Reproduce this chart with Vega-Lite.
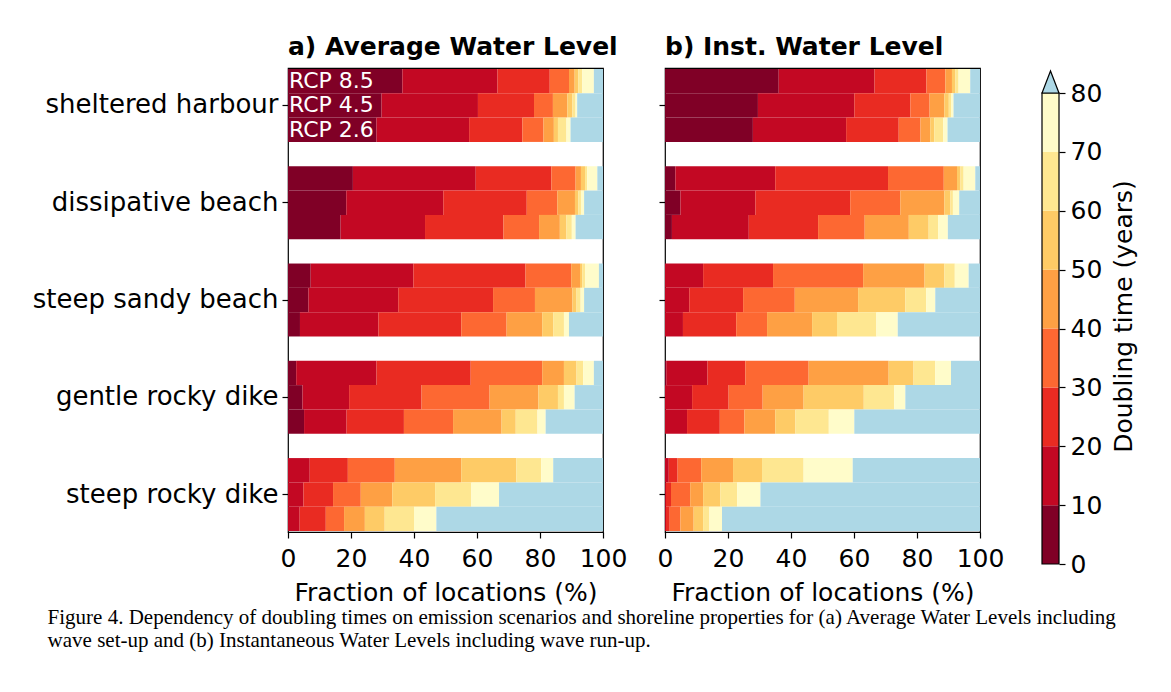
{
  "$schema": "https://vega.github.io/schema/vega-lite/v6.json",
  "background": "white",
  "padding": {"left": 31, "top": 34, "right": 10, "bottom": 10},
  "config": {
    "font": "DejaVu Sans",
    "view": {"stroke": "black", "strokeWidth": 1.2},
    "axis": {"labelFont": "DejaVu Sans", "labelFontSize": 25, "labelColor": "black", "titleFont": "DejaVu Sans", "titleFontSize": 25, "titleFontWeight": "normal", "titleColor": "black", "tickColor": "black", "tickSize": 6, "tickWidth": 1.2, "domain": false, "grid": false, "labelFlush": false, "labelOverlap": false, "labelPadding": 8, "labelLimit": 0}
  },
  "title": {
    "text": ["Figure 4. Dependency of doubling times on emission scenarios and shoreline properties for (a) Average Water Levels including", "wave set-up and (b) Instantaneous Water Levels including wave run-up."],
    "orient": "bottom", "anchor": "start", "font": "Liberation Serif", "fontSize": 21, "fontWeight": "normal", "color": "black", "lineHeight": 23, "offset": 1, "dx": 16
  },
  "datasets": {
    "A": [
      {"c":"sheltered harbour","r":"8.5","k":0,"a":0,"b":36.3},{"c":"sheltered harbour","r":"8.5","k":1,"a":36.3,"b":66.5},{"c":"sheltered harbour","r":"8.5","k":2,"a":66.5,"b":83.1},{"c":"sheltered harbour","r":"8.5","k":3,"a":83.1,"b":89.2},{"c":"sheltered harbour","r":"8.5","k":4,"a":89.2,"b":91.0},{"c":"sheltered harbour","r":"8.5","k":5,"a":91.0,"b":92.2},{"c":"sheltered harbour","r":"8.5","k":6,"a":92.2,"b":93.4},{"c":"sheltered harbour","r":"8.5","k":7,"a":93.4,"b":97.1},{"c":"sheltered harbour","r":"8.5","k":8,"a":97.1,"b":100},
      {"c":"sheltered harbour","r":"4.5","k":0,"a":0,"b":29.7},{"c":"sheltered harbour","r":"4.5","k":1,"a":29.7,"b":60.3},{"c":"sheltered harbour","r":"4.5","k":2,"a":60.3,"b":78.1},{"c":"sheltered harbour","r":"4.5","k":3,"a":78.1,"b":84.1},{"c":"sheltered harbour","r":"4.5","k":4,"a":84.1,"b":88.7},{"c":"sheltered harbour","r":"4.5","k":5,"a":88.7,"b":90.3},{"c":"sheltered harbour","r":"4.5","k":6,"a":90.3,"b":91.3},{"c":"sheltered harbour","r":"4.5","k":7,"a":91.3,"b":91.8},{"c":"sheltered harbour","r":"4.5","k":8,"a":91.8,"b":100},
      {"c":"sheltered harbour","r":"2.6","k":0,"a":0,"b":28.1},{"c":"sheltered harbour","r":"2.6","k":1,"a":28.1,"b":57.5},{"c":"sheltered harbour","r":"2.6","k":2,"a":57.5,"b":74.4},{"c":"sheltered harbour","r":"2.6","k":3,"a":74.4,"b":81.1},{"c":"sheltered harbour","r":"2.6","k":4,"a":81.1,"b":84.4},{"c":"sheltered harbour","r":"2.6","k":5,"a":84.4,"b":85.7},{"c":"sheltered harbour","r":"2.6","k":6,"a":85.7,"b":88.4},{"c":"sheltered harbour","r":"2.6","k":7,"a":88.4,"b":89.7},{"c":"sheltered harbour","r":"2.6","k":8,"a":89.7,"b":100},
      {"c":"dissipative beach","r":"8.5","k":0,"a":0,"b":20.6},{"c":"dissipative beach","r":"8.5","k":1,"a":20.6,"b":59.6},{"c":"dissipative beach","r":"8.5","k":2,"a":59.6,"b":83.6},{"c":"dissipative beach","r":"8.5","k":3,"a":83.6,"b":91.3},{"c":"dissipative beach","r":"8.5","k":4,"a":91.3,"b":93.0},{"c":"dissipative beach","r":"8.5","k":5,"a":93.0,"b":94.3},{"c":"dissipative beach","r":"8.5","k":6,"a":94.3,"b":95.0},{"c":"dissipative beach","r":"8.5","k":7,"a":95.0,"b":98.2},{"c":"dissipative beach","r":"8.5","k":8,"a":98.2,"b":100},
      {"c":"dissipative beach","r":"4.5","k":0,"a":0,"b":18.5},{"c":"dissipative beach","r":"4.5","k":1,"a":18.5,"b":49.3},{"c":"dissipative beach","r":"4.5","k":2,"a":49.3,"b":75.8},{"c":"dissipative beach","r":"4.5","k":3,"a":75.8,"b":85.5},{"c":"dissipative beach","r":"4.5","k":4,"a":85.5,"b":91.1},{"c":"dissipative beach","r":"4.5","k":5,"a":91.1,"b":92.2},{"c":"dissipative beach","r":"4.5","k":6,"a":92.2,"b":93.0},{"c":"dissipative beach","r":"4.5","k":7,"a":93.0,"b":94.0},{"c":"dissipative beach","r":"4.5","k":8,"a":94.0,"b":100},
      {"c":"dissipative beach","r":"2.6","k":0,"a":0,"b":16.7},{"c":"dissipative beach","r":"2.6","k":1,"a":16.7,"b":43.5},{"c":"dissipative beach","r":"2.6","k":2,"a":43.5,"b":68.4},{"c":"dissipative beach","r":"2.6","k":3,"a":68.4,"b":79.7},{"c":"dissipative beach","r":"2.6","k":4,"a":79.7,"b":86.3},{"c":"dissipative beach","r":"2.6","k":5,"a":86.3,"b":88.4},{"c":"dissipative beach","r":"2.6","k":6,"a":88.4,"b":90.1},{"c":"dissipative beach","r":"2.6","k":7,"a":90.1,"b":91.3},{"c":"dissipative beach","r":"2.6","k":8,"a":91.3,"b":100},
      {"c":"steep sandy beach","r":"8.5","k":0,"a":0,"b":7.2},{"c":"steep sandy beach","r":"8.5","k":1,"a":7.2,"b":39.8},{"c":"steep sandy beach","r":"8.5","k":2,"a":39.8,"b":75.4},{"c":"steep sandy beach","r":"8.5","k":3,"a":75.4,"b":89.9},{"c":"steep sandy beach","r":"8.5","k":4,"a":89.9,"b":92.7},{"c":"steep sandy beach","r":"8.5","k":5,"a":92.7,"b":93.4},{"c":"steep sandy beach","r":"8.5","k":6,"a":93.4,"b":94.3},{"c":"steep sandy beach","r":"8.5","k":7,"a":94.3,"b":98.7},{"c":"steep sandy beach","r":"8.5","k":8,"a":98.7,"b":100},
      {"c":"steep sandy beach","r":"4.5","k":0,"a":0,"b":6.5},{"c":"steep sandy beach","r":"4.5","k":1,"a":6.5,"b":35.0},{"c":"steep sandy beach","r":"4.5","k":2,"a":35.0,"b":65.1},{"c":"steep sandy beach","r":"4.5","k":3,"a":65.1,"b":78.4},{"c":"steep sandy beach","r":"4.5","k":4,"a":78.4,"b":90.3},{"c":"steep sandy beach","r":"4.5","k":5,"a":90.3,"b":91.6},{"c":"steep sandy beach","r":"4.5","k":6,"a":91.6,"b":92.9},{"c":"steep sandy beach","r":"4.5","k":7,"a":92.9,"b":94.0},{"c":"steep sandy beach","r":"4.5","k":8,"a":94.0,"b":100},
      {"c":"steep sandy beach","r":"2.6","k":0,"a":0,"b":3.8},{"c":"steep sandy beach","r":"2.6","k":1,"a":3.8,"b":28.7},{"c":"steep sandy beach","r":"2.6","k":2,"a":28.7,"b":55.0},{"c":"steep sandy beach","r":"2.6","k":3,"a":55.0,"b":69.4},{"c":"steep sandy beach","r":"2.6","k":4,"a":69.4,"b":80.7},{"c":"steep sandy beach","r":"2.6","k":5,"a":80.7,"b":84.2},{"c":"steep sandy beach","r":"2.6","k":6,"a":84.2,"b":87.6},{"c":"steep sandy beach","r":"2.6","k":7,"a":87.6,"b":89.2},{"c":"steep sandy beach","r":"2.6","k":8,"a":89.2,"b":100},
      {"c":"gentle rocky dike","r":"8.5","k":0,"a":0,"b":2.6},{"c":"gentle rocky dike","r":"8.5","k":1,"a":2.6,"b":28.1},{"c":"gentle rocky dike","r":"8.5","k":2,"a":28.1,"b":58.0},{"c":"gentle rocky dike","r":"8.5","k":3,"a":58.0,"b":80.7},{"c":"gentle rocky dike","r":"8.5","k":4,"a":80.7,"b":87.6},{"c":"gentle rocky dike","r":"8.5","k":5,"a":87.6,"b":91.6},{"c":"gentle rocky dike","r":"8.5","k":6,"a":91.6,"b":93.7},{"c":"gentle rocky dike","r":"8.5","k":7,"a":93.7,"b":97.1},{"c":"gentle rocky dike","r":"8.5","k":8,"a":97.1,"b":100},
      {"c":"gentle rocky dike","r":"4.5","k":0,"a":0,"b":4.6},{"c":"gentle rocky dike","r":"4.5","k":1,"a":4.6,"b":19.4},{"c":"gentle rocky dike","r":"4.5","k":2,"a":19.4,"b":42.4},{"c":"gentle rocky dike","r":"4.5","k":3,"a":42.4,"b":64.0},{"c":"gentle rocky dike","r":"4.5","k":4,"a":64.0,"b":79.5},{"c":"gentle rocky dike","r":"4.5","k":5,"a":79.5,"b":85.7},{"c":"gentle rocky dike","r":"4.5","k":6,"a":85.7,"b":87.6},{"c":"gentle rocky dike","r":"4.5","k":7,"a":87.6,"b":91.0},{"c":"gentle rocky dike","r":"4.5","k":8,"a":91.0,"b":100},
      {"c":"gentle rocky dike","r":"2.6","k":0,"a":0,"b":5.1},{"c":"gentle rocky dike","r":"2.6","k":1,"a":5.1,"b":18.6},{"c":"gentle rocky dike","r":"2.6","k":2,"a":18.6,"b":36.8},{"c":"gentle rocky dike","r":"2.6","k":3,"a":36.8,"b":52.4},{"c":"gentle rocky dike","r":"2.6","k":4,"a":52.4,"b":67.8},{"c":"gentle rocky dike","r":"2.6","k":5,"a":67.8,"b":72.3},{"c":"gentle rocky dike","r":"2.6","k":6,"a":72.3,"b":79.2},{"c":"gentle rocky dike","r":"2.6","k":7,"a":79.2,"b":81.8},{"c":"gentle rocky dike","r":"2.6","k":8,"a":81.8,"b":100},
      {"c":"steep rocky dike","r":"8.5","k":1,"a":0,"b":6.9},{"c":"steep rocky dike","r":"8.5","k":2,"a":6.9,"b":19.0},{"c":"steep rocky dike","r":"8.5","k":3,"a":19.0,"b":33.9},{"c":"steep rocky dike","r":"8.5","k":4,"a":33.9,"b":55.0},{"c":"steep rocky dike","r":"8.5","k":5,"a":55.0,"b":72.5},{"c":"steep rocky dike","r":"8.5","k":6,"a":72.5,"b":80.4},{"c":"steep rocky dike","r":"8.5","k":7,"a":80.4,"b":84.2},{"c":"steep rocky dike","r":"8.5","k":8,"a":84.2,"b":100},
      {"c":"steep rocky dike","r":"4.5","k":1,"a":0,"b":4.9},{"c":"steep rocky dike","r":"4.5","k":2,"a":4.9,"b":14.3},{"c":"steep rocky dike","r":"4.5","k":3,"a":14.3,"b":23.1},{"c":"steep rocky dike","r":"4.5","k":4,"a":23.1,"b":33.1},{"c":"steep rocky dike","r":"4.5","k":5,"a":33.1,"b":46.7},{"c":"steep rocky dike","r":"4.5","k":6,"a":46.7,"b":58.2},{"c":"steep rocky dike","r":"4.5","k":7,"a":58.2,"b":67.0},{"c":"steep rocky dike","r":"4.5","k":8,"a":67.0,"b":100},
      {"c":"steep rocky dike","r":"2.6","k":1,"a":0,"b":3.7},{"c":"steep rocky dike","r":"2.6","k":2,"a":3.7,"b":12.0},{"c":"steep rocky dike","r":"2.6","k":3,"a":12.0,"b":17.8},{"c":"steep rocky dike","r":"2.6","k":4,"a":17.8,"b":24.4},{"c":"steep rocky dike","r":"2.6","k":5,"a":24.4,"b":30.7},{"c":"steep rocky dike","r":"2.6","k":6,"a":30.7,"b":40.0},{"c":"steep rocky dike","r":"2.6","k":7,"a":40.0,"b":47.1},{"c":"steep rocky dike","r":"2.6","k":8,"a":47.1,"b":100}
    ],
    "B": [
      {"c":"sheltered harbour","r":"8.5","k":0,"a":0,"b":36.1},{"c":"sheltered harbour","r":"8.5","k":1,"a":36.1,"b":66.5},{"c":"sheltered harbour","r":"8.5","k":2,"a":66.5,"b":83.0},{"c":"sheltered harbour","r":"8.5","k":3,"a":83.0,"b":89.0},{"c":"sheltered harbour","r":"8.5","k":4,"a":89.0,"b":91.1},{"c":"sheltered harbour","r":"8.5","k":5,"a":91.1,"b":92.2},{"c":"sheltered harbour","r":"8.5","k":6,"a":92.2,"b":93.2},{"c":"sheltered harbour","r":"8.5","k":7,"a":93.2,"b":96.9},{"c":"sheltered harbour","r":"8.5","k":8,"a":96.9,"b":100},
      {"c":"sheltered harbour","r":"4.5","k":0,"a":0,"b":29.5},{"c":"sheltered harbour","r":"4.5","k":1,"a":29.5,"b":60.1},{"c":"sheltered harbour","r":"4.5","k":2,"a":60.1,"b":77.9},{"c":"sheltered harbour","r":"4.5","k":3,"a":77.9,"b":84.0},{"c":"sheltered harbour","r":"4.5","k":4,"a":84.0,"b":88.7},{"c":"sheltered harbour","r":"4.5","k":5,"a":88.7,"b":90.1},{"c":"sheltered harbour","r":"4.5","k":6,"a":90.1,"b":90.8},{"c":"sheltered harbour","r":"4.5","k":7,"a":90.8,"b":91.6},{"c":"sheltered harbour","r":"4.5","k":8,"a":91.6,"b":100},
      {"c":"sheltered harbour","r":"2.6","k":0,"a":0,"b":27.9},{"c":"sheltered harbour","r":"2.6","k":1,"a":27.9,"b":57.5},{"c":"sheltered harbour","r":"2.6","k":2,"a":57.5,"b":74.2},{"c":"sheltered harbour","r":"2.6","k":3,"a":74.2,"b":81.1},{"c":"sheltered harbour","r":"2.6","k":4,"a":81.1,"b":84.2},{"c":"sheltered harbour","r":"2.6","k":5,"a":84.2,"b":85.5},{"c":"sheltered harbour","r":"2.6","k":6,"a":85.5,"b":88.3},{"c":"sheltered harbour","r":"2.6","k":7,"a":88.3,"b":89.7},{"c":"sheltered harbour","r":"2.6","k":8,"a":89.7,"b":100},
      {"c":"dissipative beach","r":"8.5","k":0,"a":0,"b":3.3},{"c":"dissipative beach","r":"8.5","k":1,"a":3.3,"b":35.0},{"c":"dissipative beach","r":"8.5","k":2,"a":35.0,"b":70.8},{"c":"dissipative beach","r":"8.5","k":3,"a":70.8,"b":88.5},{"c":"dissipative beach","r":"8.5","k":4,"a":88.5,"b":92.7},{"c":"dissipative beach","r":"8.5","k":5,"a":92.7,"b":93.8},{"c":"dissipative beach","r":"8.5","k":6,"a":93.8,"b":94.8},{"c":"dissipative beach","r":"8.5","k":7,"a":94.8,"b":98.5},{"c":"dissipative beach","r":"8.5","k":8,"a":98.5,"b":100},
      {"c":"dissipative beach","r":"4.5","k":0,"a":0,"b":4.9},{"c":"dissipative beach","r":"4.5","k":1,"a":4.9,"b":28.7},{"c":"dissipative beach","r":"4.5","k":2,"a":28.7,"b":58.8},{"c":"dissipative beach","r":"4.5","k":3,"a":58.8,"b":74.7},{"c":"dissipative beach","r":"4.5","k":4,"a":74.7,"b":88.7},{"c":"dissipative beach","r":"4.5","k":5,"a":88.7,"b":90.6},{"c":"dissipative beach","r":"4.5","k":6,"a":90.6,"b":91.4},{"c":"dissipative beach","r":"4.5","k":7,"a":91.4,"b":93.4},{"c":"dissipative beach","r":"4.5","k":8,"a":93.4,"b":100},
      {"c":"dissipative beach","r":"2.6","k":0,"a":0,"b":2.2},{"c":"dissipative beach","r":"2.6","k":1,"a":2.2,"b":26.6},{"c":"dissipative beach","r":"2.6","k":2,"a":26.6,"b":48.6},{"c":"dissipative beach","r":"2.6","k":3,"a":48.6,"b":63.4},{"c":"dissipative beach","r":"2.6","k":4,"a":63.4,"b":77.4},{"c":"dissipative beach","r":"2.6","k":5,"a":77.4,"b":83.7},{"c":"dissipative beach","r":"2.6","k":6,"a":83.7,"b":86.7},{"c":"dissipative beach","r":"2.6","k":7,"a":86.7,"b":89.8},{"c":"dissipative beach","r":"2.6","k":8,"a":89.8,"b":100},
      {"c":"steep sandy beach","r":"8.5","k":1,"a":0,"b":12.1},{"c":"steep sandy beach","r":"8.5","k":2,"a":12.1,"b":34.3},{"c":"steep sandy beach","r":"8.5","k":3,"a":34.3,"b":62.9},{"c":"steep sandy beach","r":"8.5","k":4,"a":62.9,"b":82.4},{"c":"steep sandy beach","r":"8.5","k":5,"a":82.4,"b":88.7},{"c":"steep sandy beach","r":"8.5","k":6,"a":88.7,"b":92.0},{"c":"steep sandy beach","r":"8.5","k":7,"a":92.0,"b":96.4},{"c":"steep sandy beach","r":"8.5","k":8,"a":96.4,"b":100},
      {"c":"steep sandy beach","r":"4.5","k":1,"a":0,"b":7.7},{"c":"steep sandy beach","r":"4.5","k":2,"a":7.7,"b":24.8},{"c":"steep sandy beach","r":"4.5","k":3,"a":24.8,"b":41.2},{"c":"steep sandy beach","r":"4.5","k":4,"a":41.2,"b":61.3},{"c":"steep sandy beach","r":"4.5","k":5,"a":61.3,"b":76.3},{"c":"steep sandy beach","r":"4.5","k":6,"a":76.3,"b":82.9},{"c":"steep sandy beach","r":"4.5","k":7,"a":82.9,"b":85.8},{"c":"steep sandy beach","r":"4.5","k":8,"a":85.8,"b":100},
      {"c":"steep sandy beach","r":"2.6","k":1,"a":0,"b":5.7},{"c":"steep sandy beach","r":"2.6","k":2,"a":5.7,"b":22.6},{"c":"steep sandy beach","r":"2.6","k":3,"a":22.6,"b":32.4},{"c":"steep sandy beach","r":"2.6","k":4,"a":32.4,"b":46.7},{"c":"steep sandy beach","r":"2.6","k":5,"a":46.7,"b":54.6},{"c":"steep sandy beach","r":"2.6","k":6,"a":54.6,"b":67.1},{"c":"steep sandy beach","r":"2.6","k":7,"a":67.1,"b":73.9},{"c":"steep sandy beach","r":"2.6","k":8,"a":73.9,"b":100},
      {"c":"gentle rocky dike","r":"8.5","k":0,"a":0,"b":0.4},{"c":"gentle rocky dike","r":"8.5","k":1,"a":0.4,"b":13.5},{"c":"gentle rocky dike","r":"8.5","k":2,"a":13.5,"b":25.5},{"c":"gentle rocky dike","r":"8.5","k":3,"a":25.5,"b":45.6},{"c":"gentle rocky dike","r":"8.5","k":4,"a":45.6,"b":71.0},{"c":"gentle rocky dike","r":"8.5","k":5,"a":71.0,"b":78.9},{"c":"gentle rocky dike","r":"8.5","k":6,"a":78.9,"b":85.8},{"c":"gentle rocky dike","r":"8.5","k":7,"a":85.8,"b":90.8},{"c":"gentle rocky dike","r":"8.5","k":8,"a":90.8,"b":100},
      {"c":"gentle rocky dike","r":"4.5","k":1,"a":0,"b":8.6},{"c":"gentle rocky dike","r":"4.5","k":2,"a":8.6,"b":20.2},{"c":"gentle rocky dike","r":"4.5","k":3,"a":20.2,"b":31.0},{"c":"gentle rocky dike","r":"4.5","k":4,"a":31.0,"b":44.0},{"c":"gentle rocky dike","r":"4.5","k":5,"a":44.0,"b":63.1},{"c":"gentle rocky dike","r":"4.5","k":6,"a":63.1,"b":72.8},{"c":"gentle rocky dike","r":"4.5","k":7,"a":72.8,"b":76.3},{"c":"gentle rocky dike","r":"4.5","k":8,"a":76.3,"b":100},
      {"c":"gentle rocky dike","r":"2.6","k":1,"a":0,"b":7.0},{"c":"gentle rocky dike","r":"2.6","k":2,"a":7.0,"b":17.4},{"c":"gentle rocky dike","r":"2.6","k":3,"a":17.4,"b":25.2},{"c":"gentle rocky dike","r":"2.6","k":4,"a":25.2,"b":35.0},{"c":"gentle rocky dike","r":"2.6","k":5,"a":35.0,"b":41.4},{"c":"gentle rocky dike","r":"2.6","k":6,"a":41.4,"b":52.0},{"c":"gentle rocky dike","r":"2.6","k":7,"a":52.0,"b":60.1},{"c":"gentle rocky dike","r":"2.6","k":8,"a":60.1,"b":100},
      {"c":"steep rocky dike","r":"8.5","k":1,"a":0,"b":1.2},{"c":"steep rocky dike","r":"8.5","k":2,"a":1.2,"b":4.0},{"c":"steep rocky dike","r":"8.5","k":3,"a":4.0,"b":11.5},{"c":"steep rocky dike","r":"8.5","k":4,"a":11.5,"b":21.6},{"c":"steep rocky dike","r":"8.5","k":5,"a":21.6,"b":30.8},{"c":"steep rocky dike","r":"8.5","k":6,"a":30.8,"b":44.0},{"c":"steep rocky dike","r":"8.5","k":7,"a":44.0,"b":59.6},{"c":"steep rocky dike","r":"8.5","k":8,"a":59.6,"b":100},
      {"c":"steep rocky dike","r":"4.5","k":1,"a":0,"b":0.3},{"c":"steep rocky dike","r":"4.5","k":2,"a":0.3,"b":1.9},{"c":"steep rocky dike","r":"4.5","k":3,"a":1.9,"b":8.0},{"c":"steep rocky dike","r":"4.5","k":4,"a":8.0,"b":12.1},{"c":"steep rocky dike","r":"4.5","k":5,"a":12.1,"b":17.6},{"c":"steep rocky dike","r":"4.5","k":6,"a":17.6,"b":22.9},{"c":"steep rocky dike","r":"4.5","k":7,"a":22.9,"b":30.3},{"c":"steep rocky dike","r":"4.5","k":8,"a":30.3,"b":100},
      {"c":"steep rocky dike","r":"2.6","k":1,"a":0,"b":0.3},{"c":"steep rocky dike","r":"2.6","k":2,"a":0.3,"b":1.5},{"c":"steep rocky dike","r":"2.6","k":3,"a":1.5,"b":4.9},{"c":"steep rocky dike","r":"2.6","k":4,"a":4.9,"b":9.1},{"c":"steep rocky dike","r":"2.6","k":5,"a":9.1,"b":12.1},{"c":"steep rocky dike","r":"2.6","k":6,"a":12.1,"b":14.1},{"c":"steep rocky dike","r":"2.6","k":7,"a":14.1,"b":18.1},{"c":"steep rocky dike","r":"2.6","k":8,"a":18.1,"b":100}
    ],
    "L": [
      {"c":"sheltered harbour","r":"8.5","t":"RCP 8.5"},{"c":"sheltered harbour","r":"4.5","t":"RCP 4.5"},{"c":"sheltered harbour","r":"2.6","t":"RCP 2.6"}
    ],
    "CB": [
      {"k":0,"lo":0,"hi":10},{"k":1,"lo":10,"hi":20},{"k":2,"lo":20,"hi":30},{"k":3,"lo":30,"hi":40},{"k":4,"lo":40,"hi":50},{"k":5,"lo":50,"hi":60},{"k":6,"lo":60,"hi":70},{"k":7,"lo":70,"hi":80}
    ]
  },
  "spacing": 62,
  "bounds": "flush",
  "hconcat": [
    {
      "width": 315, "height": 464,
      "title": {"text": "a) Average Water Level", "anchor": "start", "frame": "group", "fontSize": 25, "fontWeight": "bold", "font": "DejaVu Sans", "color": "black", "offset": 8},
      "layer": [
        {
          "data": {"name": "A"},
          "mark": {"type": "bar"},
          "encoding": {
            "y": {"field": "c", "type": "nominal", "sort": ["sheltered harbour","dissipative beach","steep sandy beach","gentle rocky dike","steep rocky dike"], "scale": {"paddingInner": 0.25, "paddingOuter": 0.01}, "axis": {"title": null, "labelPadding": 4, "labelFontSize": 26}},
            "yOffset": {"field": "r", "type": "nominal", "sort": ["8.5","4.5","2.6"], "scale": {"paddingInner": 0, "paddingOuter": 0}},
            "x": {"field": "a", "type": "quantitative", "scale": {"domain": [0, 100], "nice": false}, "axis": {"title": "Fraction of locations (%)", "values": [0,20,40,60,80,100], "titlePadding": 9}},
            "x2": {"field": "b"},
            "color": {"field": "k", "type": "ordinal", "scale": {"domain": [0,1,2,3,4,5,6,7,8], "range": ["#800026","#c30823","#e92b22","#fd6832","#fea044","#fecb66","#fee791","#fffcca","#add8e6"]}, "legend": null}
          }
        },
        {
          "data": {"name": "L"},
          "mark": {"type": "text", "align": "left", "baseline": "middle", "color": "white", "fontSize": 22, "font": "DejaVu Sans", "dx": 1},
          "encoding": {
            "y": {"field": "c", "type": "nominal", "sort": ["sheltered harbour","dissipative beach","steep sandy beach","gentle rocky dike","steep rocky dike"]},
            "yOffset": {"field": "r", "type": "nominal", "sort": ["8.5","4.5","2.6"]},
            "x": {"datum": 0, "type": "quantitative"},
            "text": {"field": "t"}
          }
        }
      ]
    },
    {
      "width": 315, "height": 464,
      "title": {"text": "b) Inst. Water Level", "anchor": "start", "frame": "group", "fontSize": 25, "fontWeight": "bold", "font": "DejaVu Sans", "color": "black", "offset": 8},
      "data": {"name": "B"},
      "mark": {"type": "bar"},
      "encoding": {
        "y": {"field": "c", "type": "nominal", "sort": ["sheltered harbour","dissipative beach","steep sandy beach","gentle rocky dike","steep rocky dike"], "scale": {"paddingInner": 0.25, "paddingOuter": 0.01}, "axis": {"title": null, "labels": false}},
        "yOffset": {"field": "r", "type": "nominal", "sort": ["8.5","4.5","2.6"], "scale": {"paddingInner": 0, "paddingOuter": 0}},
        "x": {"field": "a", "type": "quantitative", "scale": {"domain": [0, 100], "nice": false}, "axis": {"title": "Fraction of locations (%)", "values": [0,20,40,60,80,100], "titlePadding": 9}},
        "x2": {"field": "b"},
        "color": {"field": "k", "type": "ordinal", "scale": {"domain": [0,1,2,3,4,5,6,7,8], "range": ["#800026","#c30823","#e92b22","#fd6832","#fea044","#fecb66","#fee791","#fffcca","#add8e6"]}, "legend": null}
      }
    },
    {
      "width": 17, "height": 496,
      "view": {"stroke": null},
      "layer": [
        {
          "data": {"name": "CB"},
          "mark": {"type": "rect"},
          "encoding": {
            "x": {"datum": 0, "type": "quantitative", "scale": {"domain": [0, 1], "nice": false}, "axis": null},
            "x2": {"datum": 1},
            "y": {"field": "lo", "type": "quantitative", "scale": {"domain": [0, 84.25], "nice": false, "zero": false}, "axis": {"orient": "right", "values": [0,10,20,30,40,50,60,70,80], "title": "Doubling time (years)", "titleAngle": 270, "titleBaseline": "top", "titlePadding": 10, "labelPadding": 5}},
            "y2": {"field": "hi"},
            "color": {"field": "k", "type": "ordinal", "scale": {"domain": [0,1,2,3,4,5,6,7,8], "range": ["#800026","#c30823","#e92b22","#fd6832","#fea044","#fecb66","#fee791","#fffcca","#add8e6"]}, "legend": null}
          }
        },
        {
          "data": {"values": [{"lo": 0, "hi": 80}]},
          "mark": {"type": "rect", "fill": null, "stroke": "black", "strokeWidth": 1.2},
          "encoding": {
            "x": {"datum": 0, "type": "quantitative"},
            "x2": {"datum": 1},
            "y": {"field": "lo", "type": "quantitative"},
            "y2": {"field": "hi"}
          }
        },
        {
          "data": {"values": [{"v": 81.87}]},
          "mark": {"type": "point", "shape": "M -0.77 1 L 0 -1 L 0.77 1 Z", "size": 484, "filled": true, "fill": "#add8e6", "stroke": "black", "strokeWidth": 1.2, "opacity": 1},
          "encoding": {
            "x": {"datum": 0.5, "type": "quantitative"},
            "y": {"field": "v", "type": "quantitative"}
          }
        }
      ]
    }
  ]
}
